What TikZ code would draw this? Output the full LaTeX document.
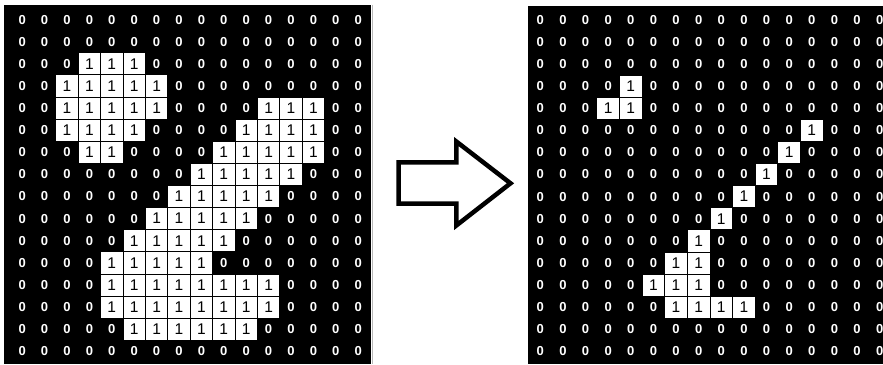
\documentclass[tikz,border=0pt]{standalone}
\usepackage{fontspec}
\setmainfont{Liberation Sans}
\begin{document}
\begin{tikzpicture}[x=1pt,y=-1pt,
  zero/.style={text=white,font=\fontsize{13}{13}\selectfont\bfseries,inner sep=0pt},
  onecell/.style={draw=black,fill=white,line width=0.8pt,minimum height=22.12pt,inner sep=0pt,
    font=\fontsize{15.5}{15.5}\selectfont},
  bigarrow/.style={draw=black,line width=4.5pt,fill=white,line join=miter}]
\useasboundingbox (0,0) rectangle (883,364);
% black backgrounds
\fill[black] (3.5,4.5) rectangle (370.5,364);
\fill[black] (528,5.5) rectangle (883,364);
\draw[gray!55,line width=0.8pt] (372.5,4.5) -- (372.5,364);
% zeros
\foreach \r in {0,...,15}{
  \foreach \c in {0,...,15}{
    \node[zero] (L-\r-\c) at ({11+22.4*(\c+0.5)},{8.5+22.12*(\r+0.5)}) {0};
    \node[zero] (R-\r-\c) at ({529+22.62*(\c+0.5)},{8.6+22.12*(\r+0.5)}) {0};
  }
}
% ones, left grid
\foreach \r/\a/\b in {2/3/5,3/2/6,4/2/6,4/11/13,5/2/5,5/10/13,6/3/4,6/9/13,7/8/12,
  8/7/11,9/6/10,10/5/9,11/4/8,12/4/11,13/4/11,14/5/10}{
  \foreach \c in {\a,...,\b}{
    \node[onecell,minimum width=22.4pt] (LA-\r-\c) at ({11+22.4*(\c+0.5)},{8.5+22.12*(\r+0.5)}) {1};
  }
}
% ones, right grid
\foreach \r/\a/\b in {3/4/4,4/3/4,5/12/12,6/11/11,7/10/10,8/9/9,9/8/8,10/7/7,
  11/6/7,12/5/7,13/6/9}{
  \foreach \c in {\a,...,\b}{
    \node[onecell,minimum width=22.62pt] (RA-\r-\c) at ({529+22.62*(\c+0.5)},{8.6+22.12*(\r+0.5)}) {1};
  }
}
% block arrow
\draw[bigarrow] (398.7,162.3) -- (456.3,162.3) -- (456.3,141.5) -- (510.5,183.3)
  -- (456.3,225.5) -- (456.3,203.5) -- (398.7,203.5) -- cycle;
\end{tikzpicture}
\end{document}
